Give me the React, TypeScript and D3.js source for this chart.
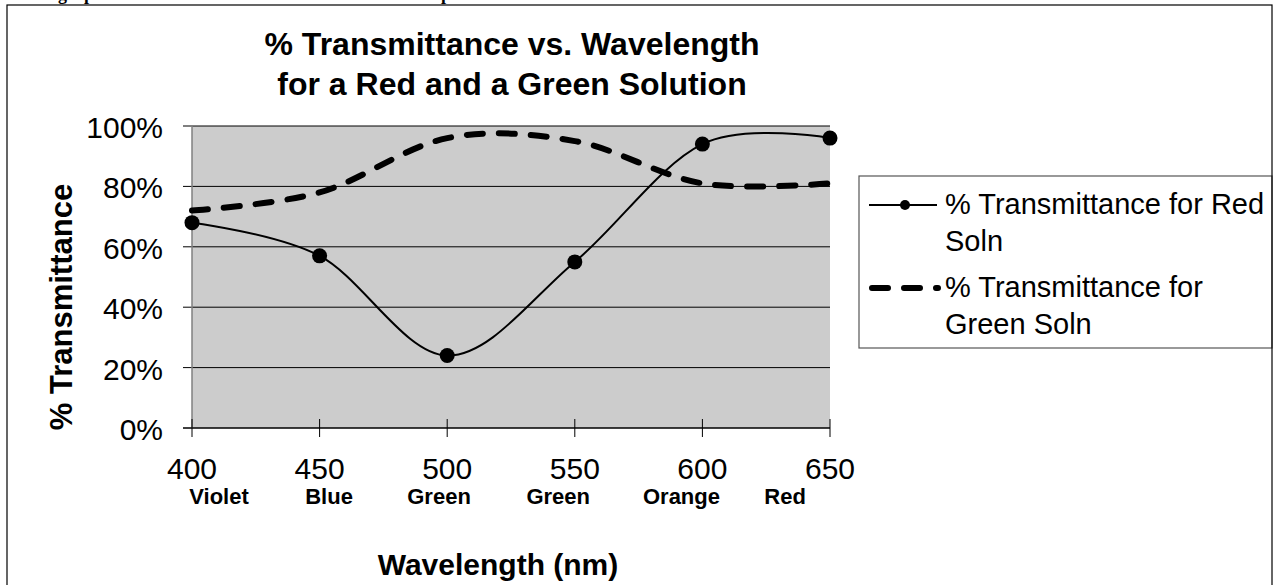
import React from 'react';
import * as d3 from 'd3';

const wavelengths = [400, 450, 500, 550, 600, 650];
const colorNames = ['Violet', 'Blue', 'Green', 'Green', 'Orange', 'Red'];
const redSoln = [0.68, 0.57, 0.24, 0.55, 0.94, 0.96];
const greenSoln = [0.72, 0.78, 0.96, 0.95, 0.81, 0.81];
const yTicks = [0, 0.2, 0.4, 0.6, 0.8, 1.0];
const titleLines = ['% Transmittance vs. Wavelength', 'for a Red and a Green Solution'];
const redLegend = ['% Transmittance for Red', 'Soln'];
const greenLegend = ['% Transmittance for', 'Green Soln'];

const FONT = '"Liberation Sans", Arial, Helvetica, sans-serif';
// layout: centre of each colour name, expressed in nm along the axis
const colorLabelNm = [410.6, 453.7, 496.8, 543.5, 591.8, 632.4];

export default function App() {
  const W = 1278, H = 585;
  const x = d3.scaleLinear().domain([400, 650]).range([192, 830]);
  const y = d3.scaleLinear().domain([0, 1]).range([428, 126]);
  const line = d3
    .line<number>()
    .x((_, i) => x(wavelengths[i]))
    .y((d) => y(d))
    .curve(d3.curveCardinal.tension(0));
  const fmt = d3.format('.0%');

  return (
    <svg width={W} height={H} style={{ position: 'absolute', left: 0, top: 0, background: '#fff' }} fontFamily={FONT}>
      <rect x={0} y={0} width={W} height={H} fill="#fff" />
      {/* cut-off text of the page above */}
      <text x={58} y={0} fontFamily="'Liberation Serif', 'Times New Roman', serif" fontWeight="bold" fontSize={18}>graph</text>
      <text x={400} y={0} fontFamily="'Liberation Serif', 'Times New Roman', serif" fontWeight="bold" fontSize={18}>example</text>

      {/* plot area */}
      <rect x={x(400)} y={y(1)} width={x(650) - x(400)} height={y(0) - y(1)} fill="#cccccc" />
      {yTicks.map((t) => (
        <line key={t} x1={x(400) - 9} x2={x(650)} y1={y(t)} y2={y(t)} stroke="#000" strokeWidth={1} />
      ))}
      <line x1={x(400)} x2={x(400)} y1={y(1)} y2={y(0)} stroke="#808080" strokeWidth={1.5} />
      <line x1={x(400) - 9} x2={x(650)} y1={y(0)} y2={y(0)} stroke="#000" strokeWidth={1.2} />
      {wavelengths.map((w) => (
        <line key={w} x1={x(w)} x2={x(w)} y1={y(0) - 9} y2={y(0) + 9} stroke="#000" strokeWidth={1} />
      ))}

      {/* y tick labels */}
      {yTicks.map((t) => (
        <text key={t} x={163} y={y(t) + 12} textAnchor="end" fontSize={30}>{fmt(t)}</text>
      ))}
      {/* x tick labels */}
      {wavelengths.map((w) => (
        <text key={w} x={x(w)} y={479} textAnchor="middle" fontSize={30}>{w}</text>
      ))}
      {colorNames.map((c, i) => (
        <text key={i} x={x(colorLabelNm[i])} y={504} textAnchor="middle" fontSize={22} fontWeight="bold">{c}</text>
      ))}

      {/* series */}
      <path d={line(greenSoln) || ''} fill="none" stroke="#000" strokeWidth={6} strokeDasharray="16 16" strokeLinecap="round" />
      <path d={line(redSoln) || ''} fill="none" stroke="#000" strokeWidth={2} />
      {redSoln.map((v, i) => (
        <circle key={i} cx={x(wavelengths[i])} cy={y(v)} r={7.5} fill="#000" />
      ))}

      {/* titles */}
      {titleLines.map((t, i) => (
        <text key={i} x={512} y={55 + i * 40} textAnchor="middle" fontSize={32} fontWeight="bold">{t}</text>
      ))}
      <text x={498} y={575} textAnchor="middle" fontSize={30} fontWeight="bold">Wavelength (nm)</text>
      <text transform={`translate(72,307) rotate(-90)`} textAnchor="middle" fontSize={31} fontWeight="bold">% Transmittance</text>

      {/* legend */}
      <rect x={859} y={176} width={1272 - 859} height={172} fill="#fff" stroke="#555" strokeWidth={1.2} />
      <line x1={869} x2={937} y1={205} y2={205} stroke="#000" strokeWidth={2} />
      <circle cx={905} cy={205} r={5} fill="#000" />
      {redLegend.map((t, i) => (
        <text key={i} x={945} y={214 + i * 37} fontSize={29}>{t}</text>
      ))}
      <line x1={872} x2={938} y1={288} y2={288} stroke="#000" strokeWidth={6} strokeDasharray="16 16" strokeLinecap="round" />
      {greenLegend.map((t, i) => (
        <text key={i} x={945} y={297 + i * 37} fontSize={29}>{t}</text>
      ))}

      {/* chart border */}
      <rect x={7} y={5} width={1265} height={H} fill="none" stroke="#000" strokeWidth={1.2} />
    </svg>
  );
}
